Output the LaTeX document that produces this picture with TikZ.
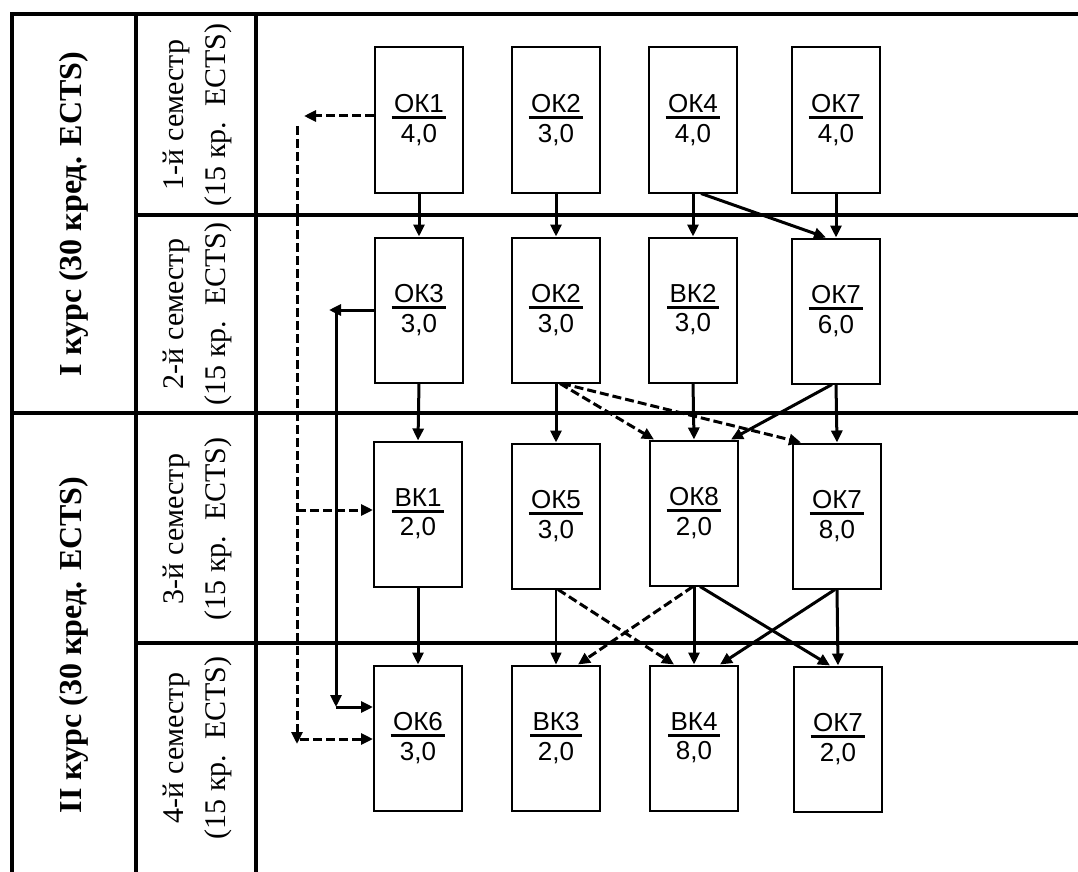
\documentclass[tikz,border=0pt]{standalone}
\usepackage{fontspec}
\setmainfont{Liberation Serif}
\newfontfamily\boxfont{Liberation Sans}
\usetikzlibrary{arrows.meta}
\newcommand\kname[2]{{\setbox0=\hbox{#1}\dimen0=\wd0 \advance\dimen0 by 5pt
  \vbox{\hbox to\dimen0{\hss\box0\hss}\kern3pt\hrule height 3pt\kern5pt\hbox to\dimen0{\hss#2\hss}}}}
\begin{document}
\begin{tikzpicture}[x=1pt,y=-1pt,
  frame/.style={line width=3.2pt, line cap=rect},
  kbox/.style={draw, line width=2pt, minimum width=88pt, minimum height=145pt, inner sep=0pt,
    font=\boxfont\fontsize{26}{31}\selectfont},
  conn/.style={line width=3pt, -{Triangle[length=12pt,width=11pt]}},
  thinconn/.style={line width=1.5pt, -{Triangle[length=12pt,width=11pt]}},
  dconn/.style={conn, dash pattern=on 9pt off 4pt},
  courselbl/.style={rotate=90, font=\bfseries\fontsize{32}{38}\selectfont},
  semlbl/.style={rotate=90, align=center, font=\fontsize{30}{42}\selectfont}
]
\useasboundingbox (0,0) rectangle (1078,872);
\fill[white] (0,0) rectangle (1078,872);
% table frame
\draw[frame] (12,872) -- (12,14) -- (1078,14);
\draw[frame] (136,14) -- (136,872);
\draw[frame] (256,14) -- (256,872);
\draw[frame] (136,215) -- (1078,215);
\draw[frame] (12,413) -- (1078,413);
\draw[frame] (136,643) -- (1078,643);
% labels
\node[courselbl] (k1) at (74,214) {I курс (30 кред. ECTS)};
\node[courselbl] (k2) at (74,645) {II курс (30 кред. ECTS)};
\node[semlbl] (s1) at (197,115) {1-й семестр\\(15 кр.\ \ ECTS)};
\node[semlbl] (s2) at (197,314) {2-й семестр\\(15 кр.\ \ ECTS)};
\node[semlbl] (s3) at (197,529) {3-й семестр\\(15 кр.\ \ ECTS)};
\node[semlbl] (s4) at (197,748) {4-й семестр\\(15 кр.\ \ ECTS)};
% boxes
\node[kbox] (a1) at (419,120) {\kname{ОК1}{4,0}};
\node[kbox] (a2) at (556,120) {\kname{ОК2}{3,0}};
\node[kbox] (a3) at (693,120) {\kname{ОК4}{4,0}};
\node[kbox] (a4) at (836,120) {\kname{ОК7}{4,0}};
\node[kbox] (b1) at (419,310) {\kname{ОК3}{3,0}};
\node[kbox] (b2) at (556,310) {\kname{ОК2}{3,0}};
\node[kbox] (b3) at (693,310) {\kname{ВК2}{3,0}};
\node[kbox] (b4) at (836,311) {\kname{ОК7}{6,0}};
\node[kbox] (c1) at (418,514) {\kname{ВК1}{2,0}};
\node[kbox] (c2) at (556,516) {\kname{ОК5}{3,0}};
\node[kbox] (c3) at (694,513) {\kname{ОК8}{2,0}};
\node[kbox] (c4) at (837,516) {\kname{ОК7}{8,0}};
\node[kbox] (d1) at (418,738) {\kname{ОК6}{3,0}};
\node[kbox] (d2) at (556,738) {\kname{ВК3}{2,0}};
\node[kbox] (d3) at (694,738) {\kname{ВК4}{8,0}};
\node[kbox] (d4) at (838,739) {\kname{ОК7}{2,0}};
% row 1 -> row 2
\draw[conn] (a1.south) -- (b1.north);
\draw[conn] (a2.south) -- (b2.north);
\draw[conn] (a3.south) -- (b3.north);
\draw[conn] (a4.south) -- (b4.north);
\draw[conn] ([xshift=8pt]a3.south) -- ([xshift=-10pt]b4.north);
% row 2 -> row 3
\draw[conn] (b1.south) -- (c1.north);
\draw[conn] (b2.south) -- (c2.north);
\draw[conn] (b3.south) -- (c3.north);
\draw[conn] (b4.south) -- (c4.north);
\draw[conn] ([xshift=-4pt]b4.south) -- ([xshift=37pt]c3.north);
\draw[dconn] ([xshift=4pt]b2.south) -- ([xshift=-40pt]c3.north);
\draw[dconn] ([xshift=6pt]b2.south) -- ([xshift=-36pt]c4.north);
% row 3 -> row 4
\draw[conn] (c1.south) -- (d1.north);
\draw[thinconn] (c2.south) -- (d2.north);
\draw[conn] (c3.south) -- (d3.north);
\draw[conn] (c4.south) -- (d4.north);
\draw[dconn] ([xshift=2pt]c2.south) -- ([xshift=-20pt]d3.north);
\draw[dconn] ([xshift=-1pt]c3.south) -- ([xshift=22pt]d2.north);
\draw[conn] ([xshift=6pt]c3.south) -- ([xshift=-8pt]d4.north);
\draw[conn] ([xshift=-2pt]c4.south) -- ([xshift=26pt]d3.north);
% solid loop from OK3 to OK6
\coordinate (sT) at (329,310);
\coordinate (sA) at (336,310);
\coordinate (sB) at (336,707);
\draw[conn] (b1.west) -- (sT);
\draw[conn] (sA) -- (sB);
\draw[conn] (sB) -- (sB -| d1.west);
% dashed loop from OK1 to BK1 and OK6
\coordinate (dT) at (304,116);
\coordinate (dA) at (297,126);
\coordinate (dB) at (297,744);
\coordinate (dC) at (297,510);
\coordinate (dD) at (300,739);
\draw[dconn] ([yshift=4pt]a1.west) -- (dT);
\draw[dconn] (dA) -- (dB);
\draw[dconn] (dC) -- (dC -| c1.west);
\draw[dconn] (dD) -- (dD -| d1.west);
\end{tikzpicture}
\end{document}
